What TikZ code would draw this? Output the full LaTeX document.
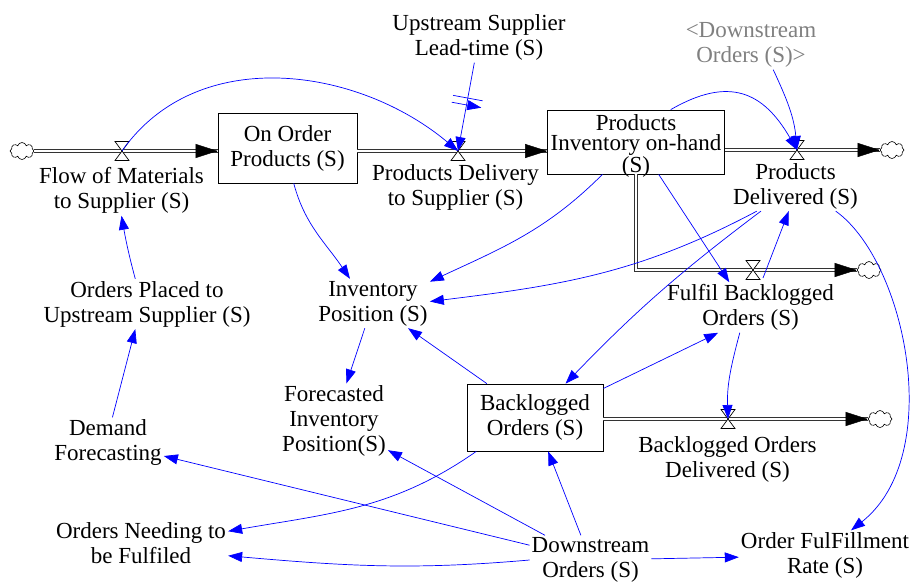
\documentclass[tikz,border=0pt]{standalone}
\usepackage{fontspec}
\setmainfont{Liberation Serif}
\usetikzlibrary{arrows.meta,calc,shapes.symbols,decorations.markings}
\definecolor{linkblue}{RGB}{0,0,255}
\definecolor{shadowgray}{RGB}{128,128,128}
\tikzset{
  stock/.style={rectangle,draw=black,line width=0.8pt,fill=white,align=center,inner sep=0pt},
  var/.style={align=center,inner sep=2pt},
  shadowvar/.style={var,text=shadowgray},
  sink/.style={cloud,cloud puffs=8,draw,line width=0.6pt,minimum width=24pt,minimum height=17pt,inner sep=0pt},
  pipe/.style={draw=black!80,double=white,double distance=2.2pt,line width=1pt},
  fhead/.style={-{Triangle[length=22pt,width=14pt]},black,line width=0.4pt},
  link/.style={-{Triangle[length=14pt,width=10pt]},draw=linkblue,line width=0.7pt},
  delaymark/.style={postaction={decorate,decoration={markings,mark=at position #1 with
    {\draw[linkblue,line width=0.7pt] (-3.5pt,-15pt) -- (-3.5pt,15pt) (3.5pt,-15pt) -- (3.5pt,15pt);}}}},
  valve/.pic={\draw[fill=white,line width=0.7pt] (-7,9.5) -- (7,9.5) -- (-7,-9.5) -- (7,-9.5) -- cycle;},
}

\begin{document}
\begin{tikzpicture}[x=1pt,y=1pt,font=\fontsize{23}{25}\selectfont]
  \useasboundingbox (0,0) rectangle (911,-582);

  % stocks
  \node[stock,minimum width=139pt,minimum height=70pt] (onorder) at (287.5,-148) {On Order\\Products (S)};
  \node[stock,minimum width=177pt,minimum height=64pt,text height=61pt,text depth=0pt,
        font=\fontsize{23}{20.5}\selectfont] (inv) at (636,-142) {Products\\Inventory on-hand\\(S)};
  \node[stock,minimum width=136pt,minimum height=67pt] (back) at (535,-417.5) {Backlogged\\Orders (S)};

  % clouds
  \node[sink] (srcL) at (22,-151) {};
  \node[sink] (sinkP) at (892,-150) {};
  \node[sink] (sinkF) at (869,-270) {};
  \node[sink] (sinkB) at (880,-419) {};

  % valves
  \coordinate (v1) at (122,-151);
  \coordinate (v2) at (458,-151);
  \coordinate (v3) at (797,-150);
  \coordinate (v4) at (753,-270);
  \coordinate (v5) at (728,-419);

  % variables
  \node[var] (flow) at (121.5,-190.5) {Flow of Materials\\to Supplier (S)};
  \node[var] (up) at (479,-37.5) {Upstream Supplier\\Lead-time (S)};
  \node[var] (pdly) at (455.5,-187.5) {Products Delivery\\to Supplier (S)};
  \node[var] (pdel) at (795.5,-186) {Products\\Delivered (S)};
  \node[shadowvar] (dsg) at (751,-45) {<Downstream\\Orders (S)>};
  \node[var] (ful) at (750.5,-307.5) {Fulfil Backlogged\\Orders (S)};
  \node[var] (bod) at (727.5,-459) {Backlogged Orders\\Delivered (S)};
  \node[var] (ipos) at (373,-303.5) {Inventory\\Position (S)};
  \node[var] (fip) at (334,-421) {Forecasted\\Inventory\\Position(S)};
  \node[var] (dem) at (108,-442.5) {Demand\\Forecasting};
  \node[var] (need) at (141,-543.5) {Orders Needing to\\be Fulfiled};
  \node[var] (plc) at (147,-304) {Orders Placed to\\Upstream Supplier (S)};
  \node[var] (down) at (590.5,-560) {Downstream\\Orders (S)};
  \node[var] (off) at (825,-555.5) {Order FulFillment\\Rate (S)};

  % flows
  \draw[pipe] (srcL) -- (v1 -| onorder.west);
  \draw[fhead] ($(v1 -| onorder.west)+(-1,0)$) -- (v1 -| onorder.west);
  \draw[pipe] (v2 -| onorder.east) -- (v2 -| inv.west);
  \draw[fhead] ($(v2 -| inv.west)+(-1,0)$) -- (v2 -| inv.west);
  \draw[pipe] (v3 -| inv.east) -- (sinkP);
  \draw[fhead] ($(sinkP.west)+(-1,0)$) -- (sinkP.west);
  \draw[pipe] (inv.south) |- (sinkF);
  \draw[fhead] ($(sinkF.west)+(-1,0)$) -- (sinkF.west);
  \draw[pipe] (v5 -| back.east) -- (sinkB);
  \draw[fhead] ($(sinkB.west)+(-1,0)$) -- (sinkB.west);
  \foreach \v in {v1,v2,v3,v4,v5}
    \pic at (\v) {valve};

  % links
  \draw[link] (v1) to[out=55,in=140] (v2);
  \draw[link,delaymark=0.44] (up) -- (v2);
  \draw[link] (inv.43) to[out=30,in=120,looseness=1.3] (v3);
  \draw[link] (dsg.-48) to[out=-65,in=95] (v3);
  \draw[link] (inv.-136) to[out=-135,in=25] (ipos.21);
  \draw[link] (onorder.-80) to[out=-75,in=124] (ipos.133);
  \draw[link] (pdel.-147) to[out=-152,in=7] (ipos.2);
  \draw[link] (pdel.-144) to[out=-143,in=46] (back.48);
  \draw[link] (inv.-55) -- (ful.130);
  \draw[link] ($(v4)+(10,-8)$) -- (pdel.-105);
  \draw[link] (back.23) -- (ful.-142);
  \draw[link] (ful.-113) to[out=-105,in=92] (v5);
  \draw[link] (back) -- (ipos);
  \draw[link] (ipos) -- (fip);
  \draw[link] (down) -- (back);
  \draw[link] (down) -- (fip);
  \draw[link] (down) -- (dem);
  \draw[link] (down.west) to[out=185,in=-5] (need.-8);
  \draw[link] (back.210) to[out=-145,in=10] (need.8);
  \draw[link] (down) -- (off);
  \draw[link] (pdel.-32) .. controls +(70,-50) and +(95,75) .. (off.44);
  \draw[link] (dem.80) -- (plc.-115);
  \draw[link] (plc.115) to[out=105,in=-80] (flow.south);
\end{tikzpicture}
\end{document}
